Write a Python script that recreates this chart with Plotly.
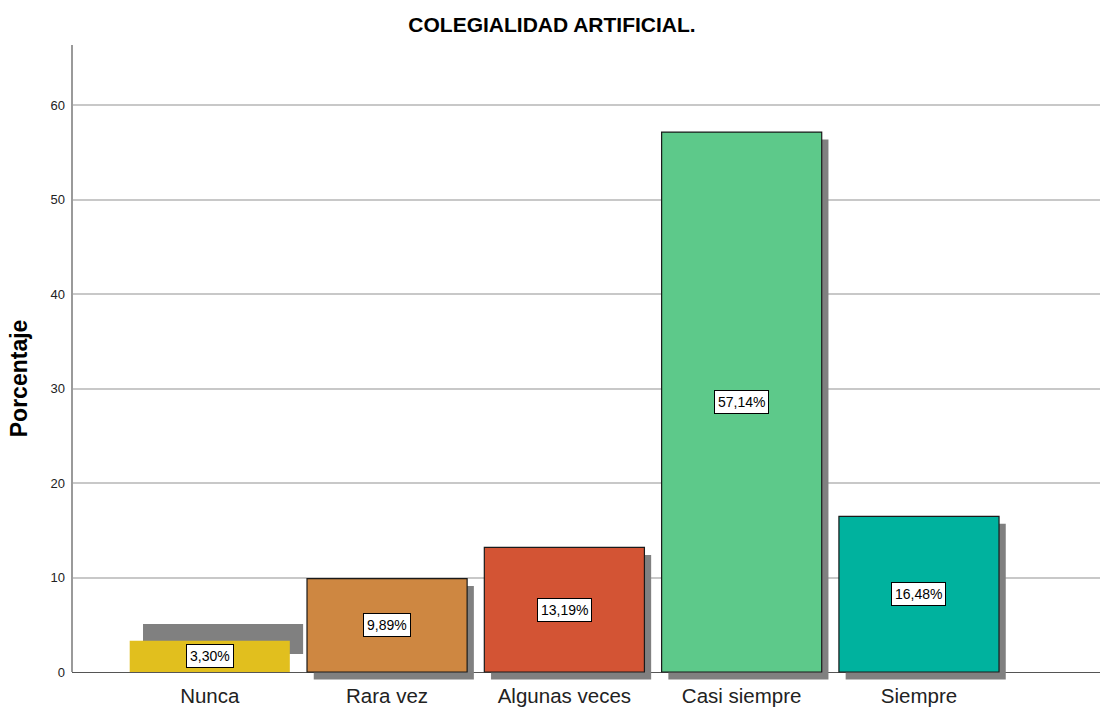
import plotly.graph_objects as go

categories = ["Nunca", "Rara vez", "Algunas veces", "Casi siempre", "Siempre"]
values = [3.30, 9.89, 13.19, 57.14, 16.48]
colors = ["#E1BF1E", "#CE8741", "#D35434", "#5DC98A", "#00B29E"]
y_ticks = [0, 10, 20, 30, 40, 50, 60]

FONT = "Arial, Liberation Sans, sans-serif"
BAR_W = 0.903
SH_DX = 0.038      # shadow offset (category units)
SH_DY = 0.80       # shadow offset (value units)
Y_MIN, Y_MAX = -0.95, 66.35

idx = list(range(len(categories)))

# shadow geometry (the first bar's shadow is displaced in the original)
sh_x = [i + SH_DX for i in idx]
sh_base = [-SH_DY for _ in idx]
sh_h = [v for v in values]
sh_x[0] = idx[0] + 0.075
sh_base[0] = 1.9
sh_h[0] = values[0] - 0.12

fig = go.Figure()
fig.add_trace(go.Bar(
    x=sh_x, y=sh_h, base=sh_base, width=BAR_W,
    marker=dict(color="#808080", line=dict(width=0)),
    hoverinfo="skip", showlegend=False))

line_w = [0] + [1.2] * (len(values) - 1)
fig.add_trace(go.Bar(
    x=idx, y=values, width=BAR_W,
    marker=dict(color=colors, line=dict(color="#1a1a1a", width=line_w)),
    showlegend=False))

for i, v in zip(idx, values):
    fig.add_annotation(
        x=i, y=v / 2, text=f"{v:.2f}".replace(".", ",") + "%",
        showarrow=False, bgcolor="white", bordercolor="#000000",
        borderwidth=1, borderpad=3,
        font=dict(family=FONT, size=14, color="#000000"))

# y axis title
fig.add_annotation(
    xref="paper", yref="paper", x=-0.0516, y=0.476, text="<b>Porcentaje</b>",
    textangle=-90, showarrow=False, xanchor="center", yanchor="middle",
    font=dict(family=FONT, size=23, color="#000000"))

# y axis line from 0 upward
fig.add_shape(type="line", xref="paper", yref="y", x0=0, x1=0,
              y0=0, y1=Y_MAX, line=dict(color="#9a9a9a", width=2))

fig.update_layout(
    width=1104, height=711,
    margin=dict(l=72, r=4, t=45, b=30),
    paper_bgcolor="white", plot_bgcolor="white",
    barmode="overlay",
    title=dict(text="<b>COLEGIALIDAD ARTIFICIAL.</b>", x=0.5, xanchor="center",
               y=0.965, yanchor="middle", yref="container",
               font=dict(family=FONT, size=21, color="#000000")),
    xaxis=dict(range=[-0.777, 5.021], tickmode="array", tickvals=idx,
               ticktext=categories, showgrid=False, zeroline=False,
               showline=False, ticks="",
               tickfont=dict(family=FONT, size=20.5, color="#222222")),
    yaxis=dict(range=[Y_MIN, Y_MAX], tickmode="array", tickvals=y_ticks,
               showgrid=True, gridcolor="#c8c8c8", gridwidth=1.5,
               zeroline=True, zerolinecolor="#555555", zerolinewidth=1.2,
               showline=False, ticks="", ticklabelstandoff=6,
               tickfont=dict(family=FONT, size=13, color="#222222")),
)

fig.write_html("out.html")
